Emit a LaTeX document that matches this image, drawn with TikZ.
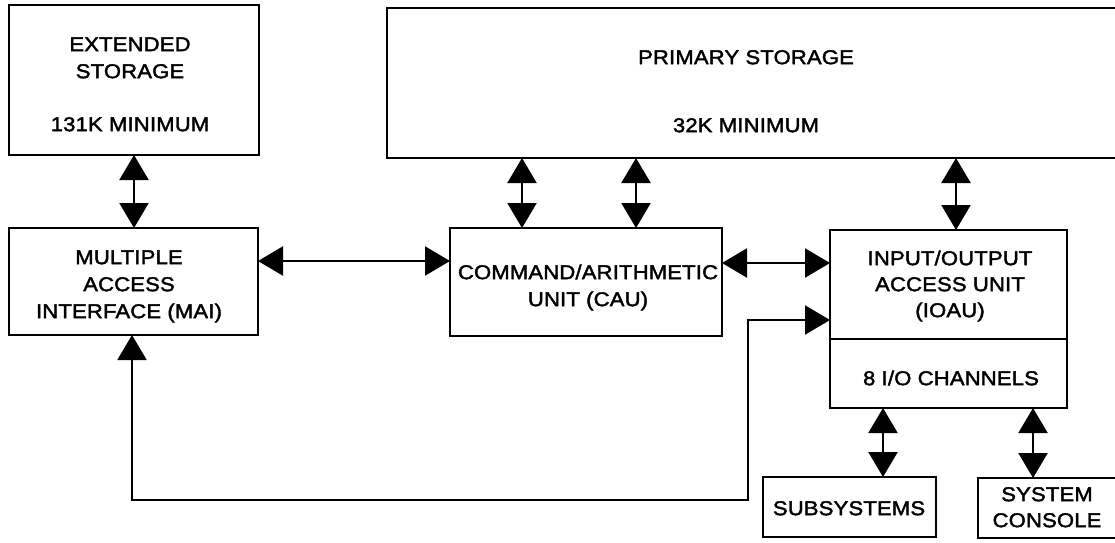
\documentclass[tikz,border=0pt]{standalone}
\usepackage{fontspec}
\setmainfont{Liberation Sans}[FakeStretch=1.1, LetterSpace=1, FakeBold=2]
\usetikzlibrary{arrows.meta}
\begin{document}
\begin{tikzpicture}[x=1pt,y=-1pt,
  blk/.style={draw, line width=2.4pt, inner sep=0pt, outer sep=0pt},
  txt/.style={inner sep=0pt, text height=14.3pt, text depth=0pt, font=\fontsize{20}{26}\selectfont},
  tip/.tip={Triangle[width=29pt,length=25pt]},
  conn/.style={line width=2.2pt, tip-tip}]
\clip (0,0) rectangle (1115,542);
\fill[white] (0,0) rectangle (1115,542);
% boxes
\node[blk, minimum width=250pt, minimum height=150pt] (es) at (134,80) {};
\node[blk, minimum width=249pt, minimum height=107pt] (mai) at (133.5,281.5) {};
\node[blk, minimum width=272pt, minimum height=108pt] (cau) at (586,282) {};
\node[blk, minimum width=773pt, minimum height=150pt] (ps) at (773.5,83) {};
\node[blk, minimum width=237pt, minimum height=109pt] (ioau) at (948.5,284.5) {};
\node[blk, minimum width=237pt, minimum height=69pt] (chan) at (948.5,373.5) {};
\node[blk, minimum width=173pt, minimum height=60pt] (sub) at (849.5,507) {};
\node[blk, minimum width=182pt, minimum height=60pt] (con) at (1069,508) {};
% texts
\node[txt] (es1) at (130,44) {EXTENDED};
\node[txt] (es2) at (130,71) {STORAGE};
\node[txt] (es3) at (130,124) {131K MINIMUM};
\node[txt] (ps1) at (746,57) {PRIMARY STORAGE};
\node[txt] (ps2) at (746,125) {32K MINIMUM};
\node[txt] (mai1) at (129,257) {MULTIPLE};
\node[txt] (mai2) at (129,284) {ACCESS};
\node[txt] (mai3) at (129,311) {INTERFACE (MAI)};
\node[txt] (cau1) at (588,272) {COMMAND/ARITHMETIC};
\node[txt] (cau2) at (588,299) {UNIT (CAU)};
\node[txt] (io1) at (950,258) {INPUT/OUTPUT};
\node[txt] (io2) at (950,284) {ACCESS UNIT};
\node[txt] (io3) at (950,310) {(IOAU)};
\node[txt] (ch1) at (951,378) {8 I/O CHANNELS};
\node[txt] (sub1) at (849,508) {SUBSYSTEMS};
\node[txt] (con1) at (1047,494) {SYSTEM};
\node[txt] (con2) at (1047,520) {CONSOLE};
% helper coordinates
\coordinate (h1) at (0,261);
\coordinate (h2) at (0,263);
\coordinate (v1) at (522,0);
\coordinate (v2) at (636,0);
\coordinate (v3) at (956,0);
\coordinate (v4) at (883,0);
\coordinate (v5) at (1033,0);
\coordinate (fb1) at (132,500);
\coordinate (fb2) at (748,320);
% connectors
\draw[conn] (es.south) -- (es.south |- mai.north);
\draw[conn] (mai.east |- h1) -- (cau.west |- h1);
\draw[conn] (ps.south -| v1) -- (cau.north -| v1);
\draw[conn] (ps.south -| v2) -- (cau.north -| v2);
\draw[conn] (cau.east |- h2) -- (ioau.west |- h2);
\draw[conn] (ps.south -| v3) -- (ioau.north -| v3);
\draw[conn] (chan.south -| v4) -- (sub.north -| v4);
\draw[conn] (chan.south -| v5) -- (con.north -| v5);
\draw[conn] (mai.south -| fb1) -- (fb1) -| (fb2) -- (ioau.west |- fb2);
\end{tikzpicture}
\end{document}
